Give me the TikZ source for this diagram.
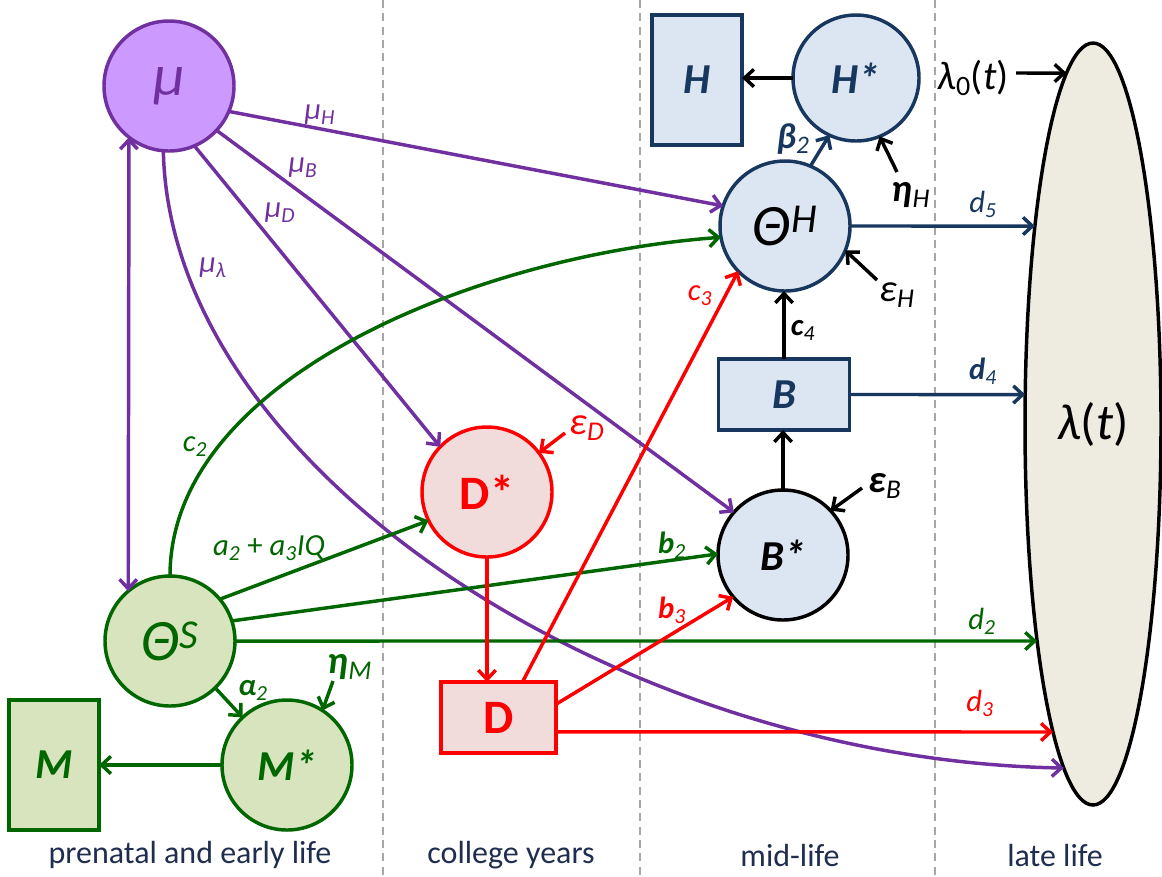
\documentclass[tikz,border=0pt]{standalone}
\usepackage{fontspec}
\setmainfont{Carlito}
\usetikzlibrary{arrows.meta,shapes.geometric}
\definecolor{purp}{HTML}{7030A0}
\definecolor{purpfill}{HTML}{CC99FF}
\definecolor{grn}{HTML}{006600}
\definecolor{grnfill}{HTML}{D7E4BD}
\definecolor{rd}{HTML}{FF0000}
\definecolor{rdfill}{HTML}{F2DCDB}
\definecolor{navy}{HTML}{17375E}
\definecolor{bluefill}{HTML}{DCE6F2}
\definecolor{tanfill}{HTML}{EEECE1}
\definecolor{dashgray}{HTML}{A6A6A6}
\definecolor{txtnavy}{HTML}{1F2D4F}
\newcommand{\fsz}[1]{\fontsize{#1}{#1}\selectfont}
\begin{document}
\begin{tikzpicture}[x=0.75pt,y=-0.75pt,
  >={Straight Barb[length=7pt,width=13pt]},
  circ/.style={circle,draw,line width=2.6pt,inner sep=0pt,outer sep=0pt,minimum size=97.5pt},
  box/.style={rectangle,draw,line width=2.6pt,inner sep=0pt,outer sep=0pt},
  conn/.style={line width=2.6pt,->},
  lbl/.style={inner sep=0pt,font=\fsz{23}\itshape},
  blbl/.style={inner sep=0pt,font=\fsz{23}\bfseries\itshape},
  errl/.style={inner sep=0pt,font=\fsz{29}\itshape},
  period/.style={inner sep=0pt,font=\fsz{24},text=txtnavy},
  sep/.style={dashgray,line width=1.6pt,dash pattern=on 6pt off 4pt}]
\useasboundingbox (0,0) rectangle (1162,876);
% period separators
\draw[sep] (383,0) -- (383,876);
\draw[sep] (640,0) -- (640,876);
\draw[sep] (935,0) -- (935,876);
% nodes
\node[circ,draw=purp,fill=purpfill,text=purp] (mu) at (169,86) {\fsz{44}\itshape μ};
\node[circ,draw=grn,fill=grnfill,text=grn] (thS) at (170,641) {\fsz{44}\itshape Θ\textsuperscript{S}};
\node[circ,draw=grn,fill=grnfill,text=grn] (Mstar) at (287,765) {\fsz{32}\bfseries\itshape M*};
\node[box,draw=grn,fill=grnfill,text=grn,minimum width=67.5pt,minimum height=97.5pt] (M) at (54,765) {\fsz{32}\bfseries\itshape M};
\node[circ,draw=rd,fill=rdfill,text=rd] (Dstar) at (487,492) {\fsz{36}\bfseries D*};
\node[box,draw=rd,fill=rdfill,text=rd,minimum width=86.25pt,minimum height=53.25pt] (D) at (498.5,717.5) {\fsz{36}\bfseries D};
\node[circ,draw=black,fill=bluefill,text=black] (Bstar) at (783,555) {\fsz{32}\bfseries\itshape B*};
\node[box,draw=navy,fill=bluefill,text=navy,minimum width=98.25pt,minimum height=53.25pt] (B) at (784,394.5) {\fsz{32}\bfseries\itshape B};
\node[circ,draw=navy,fill=bluefill,text=black] (thH) at (785,226) {\fsz{44}\itshape Θ\textsuperscript{H}};
\node[circ,draw=navy,fill=bluefill,text=navy,minimum size=94.5pt] (Hstar) at (856,78) {\fsz{32}\bfseries\itshape H*};
\node[box,draw=navy,fill=bluefill,text=navy,minimum width=67.5pt,minimum height=97.5pt] (H) at (697,80) {\fsz{32}\bfseries\itshape H};
\node[ellipse,draw=black,fill=tanfill,line width=2.6pt,inner sep=0pt,outer sep=0pt,minimum width=102pt,minimum height=571.5pt] (lam) at (1093,424) {\fsz{38}\itshape λ\upshape(\itshape t\upshape)};
% free ends of error arrows
\coordinate (eD) at (565,433);
\coordinate (eB) at (862,488);
\coordinate (eH) at (877,280);
\coordinate (etaH) at (897,172);
\coordinate (etaM) at (333,681);
\coordinate (l0) at (1016,73);
% purple connectors
\draw[conn,purp,<->] (mu.232) -- (thS.130);
\draw[conn,purp] (mu.-23) -- (thH.162);
\draw[conn,purp] (mu.-43.7) -- (Bstar.139);
\draw[conn,purp] (mu.-67) -- (Dstar.136);
\draw[conn,purp] (mu.265) .. controls (170,470) and (620,760) .. ([shift={(lam.center)}]115.45:68 and 381);
% green connectors
\draw[conn,grn] (thS.90) .. controls (170,377) and (480,255) .. (thH.190);
\draw[conn,grn] (thS.40) -- (Dstar.206);
\draw[conn,grn] (thS.18) -- (Bstar.179);
\draw[conn,grn] (thS.0) -- ([shift={(lam.center)}]145.28:68 and 381);
\draw[conn,grn] (thS.-46) -- (Mstar.133);
\draw[conn,grn] (etaM) -- (Mstar.57);
\draw[conn,grn] (Mstar.west) -- (Mstar.west -| M.east);
% red connectors
\draw[conn,rd] (Dstar.south) -- (Dstar.south |- D.north);
\draw[conn,rd] (D.56.5) -- (thH.224.4);
\draw[conn,rd] (D.13) -- (Bstar.220);
\draw[conn,rd] (D.-14.5) -- ([shift={(lam.center)}]126.06:68 and 381);
\draw[conn,rd] (eD) -- (Dstar.37);
% mid-life connectors
\draw[conn,black] (Bstar.north) -- (Bstar.north |- B.south);
\draw[conn,black] (B.north) -- (B.north |- thH.south);
\draw[conn,navy] (B.east) -- ([shift={(lam.center)}]184.44:68 and 381);
\draw[conn,navy] (thH.0) -- ([shift={(lam.center)}]211.31:68 and 381);
\draw[conn,navy] (thH.67) -- (Hstar.245);
\draw[conn,black] (etaH) -- (Hstar.-68);
\draw[conn,black] (eH) -- (thH.-22.6);
\draw[conn,black] (eB) -- (Bstar.43.8);
\draw[conn,black] (Hstar.west) -- (Hstar.west -| H.east);
\draw[conn,black] (l0) -- ([shift={(lam.center)}]247.1:68 and 381);
% labels
\node[lbl,text=purp] (lmuH) at (320,115) {μ\textsubscript{H}};
\node[lbl,text=purp] (lmuB) at (303,168) {μ\textsubscript{B}};
\node[lbl,text=purp] (lmuD) at (280,213) {μ\textsubscript{D}};
\node[lbl,text=purp] (lmuL) at (213,268) {μ\textsubscript{λ}};
\node[lbl,text=grn] (lc2) at (195,447) {c\textsubscript{2}};
\node[lbl,text=grn] (la2) at (269,548) {a\textsubscript{2} \upshape+\itshape\ a\textsubscript{3}IQ};
\node[blbl,text=grn] (lb2) at (672,545) {b\textsubscript{\mdseries 2}};
\node[lbl,text=grn] (ld2) at (982,621) {d\textsubscript{2}};
\node[blbl,text=grn] (lal2) at (253,690) {α\textsubscript{\mdseries 2}};
\node[errl,text=grn] (leM) at (350,667) {\bfseries η\textsubscript{\mdseries M}};
\node[lbl,text=rd] (lc3) at (700,296) {c\textsubscript{3}};
\node[blbl,text=rd] (lb3) at (672,610) {b\textsubscript{\mdseries 3}};
\node[lbl,text=rd] (ld3) at (980,703) {d\textsubscript{3}};
\node[errl,text=rd] (leD) at (587,428) {ε\textsubscript{D}};
\node[blbl,text=black] (lc4) at (803,330) {c\textsubscript{\mdseries 4}};
\node[blbl,text=navy] (ld4) at (983,371) {d\textsubscript{\mdseries 4}};
\node[lbl,text=navy] (ld5) at (983,204) {d\textsubscript{5}};
\node[inner sep=0pt,font=\fsz{27}\bfseries\itshape,text=navy] (lbe2) at (793,139) {β\textsubscript{\mdseries 2}};
\node[errl,text=black] (leH) at (911,195) {\bfseries η\textsubscript{\mdseries H}};
\node[errl,text=black] (leeH) at (897,295) {ε\textsubscript{H}};
\node[errl,text=black] (leB) at (885,486) {\bfseries ε\textsubscript{\mdseries B}};
\node[inner sep=0pt,font=\fsz{30}\itshape] (lam0) at (973,78) {λ\textsubscript{\upshape 0}\upshape(\itshape t\upshape)};
% period labels
\node[period] (p1) at (190,855) {prenatal and early life};
\node[period] (p2) at (511,855) {college years};
\node[period] (p3) at (790,855) {mid-life};
\node[period] (p4) at (1055,855) {late life};
\end{tikzpicture}
\end{document}
